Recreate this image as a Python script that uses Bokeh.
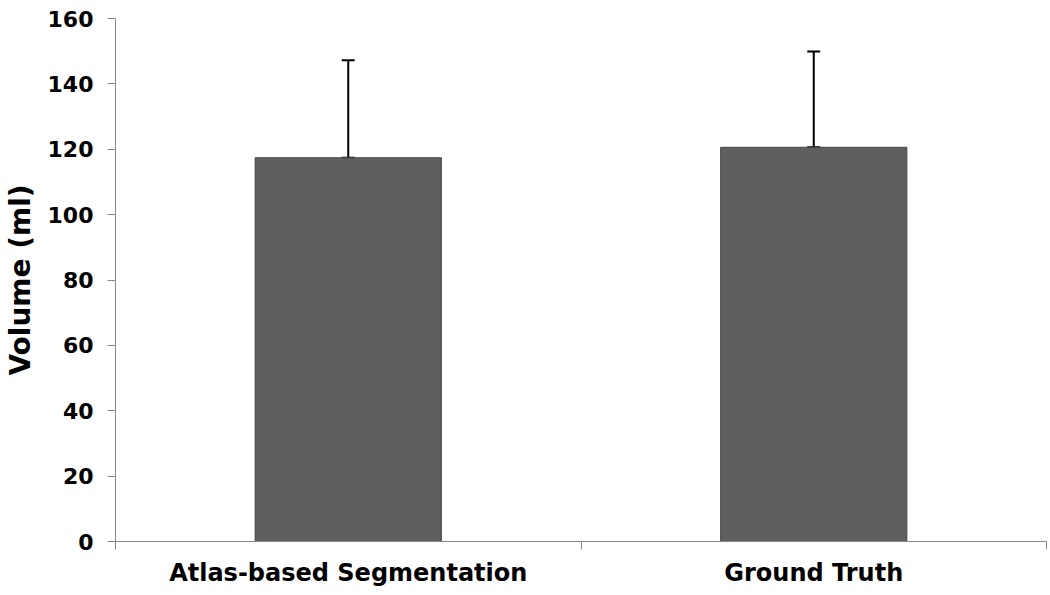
from bokeh.plotting import figure
from bokeh.models import ColumnDataSource, FixedTicker, Range1d, Whisker, TeeHead
from bokeh.embed import file_html
from bokeh.resources import INLINE

categories = ["Atlas-based Segmentation", "Ground Truth"]
means = [117.4, 120.6]
sds = [29.8, 29.3]
y_ticks = [0, 20, 40, 60, 80, 100, 120, 140, 160]

xs = [i + 0.5 for i in range(len(categories))]
src = ColumnDataSource(dict(
    x=xs, top=means, upper=[m + s for m, s in zip(means, sds)],
))

p = figure(frame_width=931, frame_height=523, min_border_left=100, min_border_right=1,
           min_border_top=18, min_border_bottom=52,
           x_range=Range1d(0, len(categories)), y_range=Range1d(0, 160),
           output_backend="svg", toolbar_location=None)
p.outline_line_color = None
p.xgrid.visible = False
p.ygrid.visible = False

p.vbar(x="x", top="top", width=0.4, bottom=0, source=src,
       fill_color="#5f5f5f", line_color="#454545", line_width=1)

w = Whisker(base="x", lower="top", upper="upper", source=src,
            line_color="black", line_width=2,
            upper_head=TeeHead(size=13, line_width=2, line_color="black"),
            lower_head=TeeHead(size=13, line_width=2, line_color="black"))
p.add_layout(w)

font = "DejaVu Sans"
axcol = "#888888"

p.yaxis.ticker = FixedTicker(ticks=y_ticks)
p.yaxis.axis_line_color = axcol
p.yaxis.major_tick_line_color = axcol
p.yaxis.major_tick_out = 8
p.yaxis.major_tick_in = 0
p.yaxis.minor_tick_line_color = None
p.yaxis.major_label_text_font = font
p.yaxis.major_label_text_font_style = "bold"
p.yaxis.major_label_text_font_size = "22px"
p.yaxis.major_label_text_color = "black"
p.yaxis.major_label_standoff = 14
p.yaxis.axis_label = "Volume (ml)"
p.yaxis.axis_label_text_font = font
p.yaxis.axis_label_text_font_style = "bold"
p.yaxis.axis_label_text_font_size = "28px"
p.yaxis.axis_label_text_color = "black"
p.yaxis.axis_label_standoff = 8

p.xaxis.ticker = FixedTicker(ticks=xs, minor_ticks=list(range(len(categories) + 1)))
p.xaxis.major_label_overrides = {x: c for x, c in zip(xs, categories)}
p.xaxis.axis_line_color = axcol
p.xaxis.major_tick_line_color = None
p.xaxis.major_tick_out = 0
p.xaxis.major_tick_in = 0
p.xaxis.minor_tick_line_color = axcol
p.xaxis.minor_tick_out = 8
p.xaxis.minor_tick_in = 0
p.xaxis.major_label_text_font = font
p.xaxis.major_label_text_font_style = "bold"
p.xaxis.major_label_text_font_size = "24px"
p.xaxis.major_label_text_color = "black"
p.xaxis.major_label_standoff = 9

open("out.html", "w").write(file_html(p, INLINE))
